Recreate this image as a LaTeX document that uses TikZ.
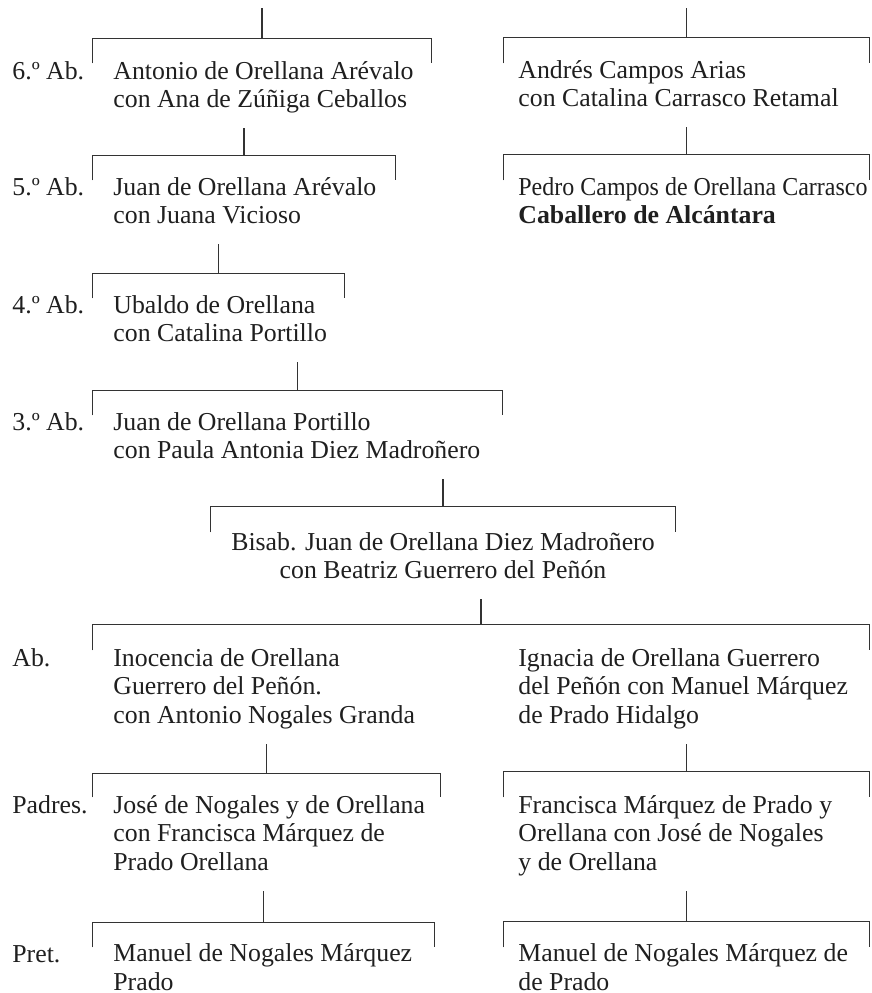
\documentclass[tikz,border=0pt]{standalone}
\usepackage{fontspec}
\setmainfont{Liberation Serif}
\newfontfamily\estrecha[FakeStretch=0.93]{Liberation Serif}
\usetikzlibrary{positioning,fit,calc}

\begin{document}
\begin{tikzpicture}[x=0.5pt,y=-0.5pt]
    % Style definitions
    \tikzstyle{grado} = [anchor=base west, inner sep=0pt, text=black!88,
        font=\fontsize{12.9pt}{14.25pt}\selectfont]
    \tikzstyle{persona} = [grado, align=left, execute at end node=\strut]
    \tikzstyle{centrada} = [persona, anchor=base, align=center]
    \tikzstyle{corchete} = [inner sep=0pt]
    \tikzstyle{linea} = [draw, line width=0.7pt, black!80]
    \tikzstyle{baja} = [linea, shorten >=6pt]

    \useasboundingbox (0,0) rectangle (872,993);

    % Generation labels
    \node [grado] (g6) at (12,79) {6.º Ab.};
    \node [grado] (g5) at (12,195) {5.º Ab.};
    \node [grado] (g4) at (12,313) {4.º Ab.};
    \node [grado] (g3) at (12,430) {3.º Ab.};
    \node [grado] (gab) at (12,666) {Ab.};
    \node [grado] (gpad) at (12,813) {Padres.};
    \node [grado] (gpret) at (12,962) {Pret.};

    % Left line (placed by the baseline of the last line)
    \node [persona] (p6) at (113,107.5) {Antonio de Orellana Arévalo\\con Ana de Zúñiga Ceballos};
    \node [persona] (p5) at (113,223.5) {Juan de Orellana Arévalo\\con Juana Vicioso};
    \node [persona] (p4) at (113,341.5) {Ubaldo de Orellana\\con Catalina Portillo};
    \node [persona] (p3) at (113,458.5) {Juan de Orellana Portillo\\con Paula Antonia Diez Madroñero};
    \node [centrada] (pb) at (443,578.5) {Bisab. Juan de Orellana Diez Madroñero\\con Beatriz Guerrero del Peñón};

    % Right line (Campos)
    \node [persona] (pa) at (518,106.5) {Andrés Campos Arias\\con Catalina Carrasco Retamal};
    \node [persona] (pc) at (518,223.5) {{\estrecha Pedro Campos de Orellana Carrasco}\\\textbf{Caballero de Alcántara}};

    % Children of the Bisab.
    \node [persona] (pi) at (113,723) {Inocencia de Orellana\\Guerrero del Peñón.\\con Antonio Nogales Granda};
    \node [persona] (pg) at (518,723) {Ignacia de Orellana Guerrero\\del Peñón con Manuel Márquez\\de Prado Hidalgo};
    \node [persona] (pj) at (113,870) {José de Nogales y de Orellana\\con Francisca Márquez de\\Prado Orellana};
    \node [persona] (pf) at (518,870) {Francisca Márquez de Prado y\\Orellana con José de Nogales\\y de Orellana};
    \node [persona] (pm) at (113,990) {Manuel de Nogales Márquez\\Prado};
    \node [persona] (pn) at (518,990) {Manuel de Nogales Márquez de\\de Prado};

    % Brackets
    \node [corchete, fit={(93,39) (431,63)}] (c6) {};
    \node [corchete, fit={(504,38) (869,63)}] (ca) {};
    \node [corchete, fit={(93,156) (395,180)}] (c5) {};
    \node [corchete, fit={(504,155) (869,180)}] (cc) {};
    \node [corchete, fit={(93,274) (344,298)}] (c4) {};
    \node [corchete, fit={(93,391) (502,415)}] (c3) {};
    \node [corchete, fit={(211,507) (675,532)}] (cb) {};
    \node [corchete, fit={(93,625) (869,650)}] (cab) {};
    \node [corchete, fit={(93,774) (440,797)}] (cj) {};
    \node [corchete, fit={(504,772) (869,797)}] (cf) {};
    \node [corchete, fit={(93,923) (434,947)}] (cm) {};
    \node [corchete, fit={(504,922) (869,947)}] (cn) {};
    \foreach \c in {c6,ca,c5,cc,c4,c3,cb,cab,cj,cf,cm,cn}
        \draw [linea] (\c.south west) |- (\c.north) -| (\c.south east);

    % Connections
    \coordinate (cima6) at (262,8);
    \coordinate (cimaa) at (686.5,8);
    \draw [linea] (c6.north) -- (cima6);
    \draw [linea] (ca.north) -- (cimaa);
    \draw [baja] (c5.north) -- (c5.north |- p6.south);
    \draw [baja] (cc.north) -- (cc.north |- pa.south);
    \draw [baja] (c4.north) -- (c4.north |- p5.south);
    \draw [baja] (c3.north) -- (c3.north |- p4.south);
    \draw [baja] (cb.north) -- (cb.north |- p3.south);
    \draw [baja] (cab.north) -- (cab.north |- pb.south);
    \draw [baja] (cj.north) -- (cj.north |- pi.south);
    \draw [baja] (cf.north) -- (cf.north |- pg.south);
    \draw [baja] (cm.north) -- (cm.north |- pj.south);
    \draw [baja] (cn.north) -- (cn.north |- pf.south);
\end{tikzpicture}
\end{document}
